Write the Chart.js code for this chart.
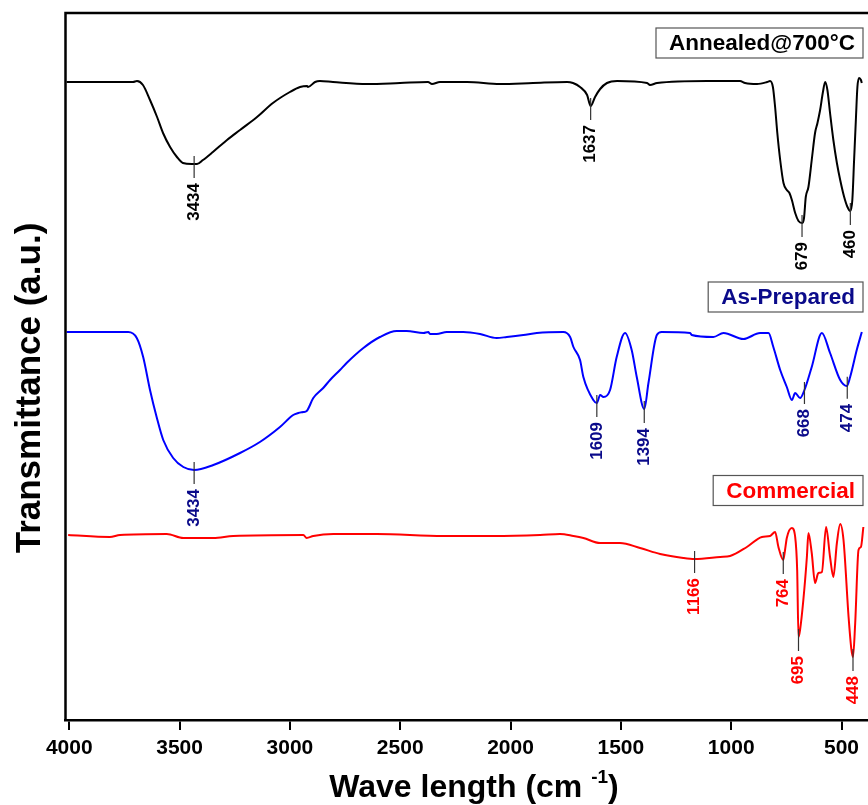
<!DOCTYPE html>
<html><head><meta charset="utf-8">
<script src="https://cdn.jsdelivr.net/npm/chart.js@4.4.1/dist/chart.umd.min.js"></script>
<style>html,body{margin:0;padding:0;background:#fff;overflow:hidden}#wrap{width:868px;height:805px;position:relative}</style>
</head><body><div id="wrap"><canvas id="c" width="868" height="805"></canvas></div>
<script>
// ---- data ----
const xTicks = [4000, 3500, 3000, 2500, 2000, 1500, 1000, 500];
const seriesNames = ['Annealed@700°C', 'As-Prepared', 'Commercial'];

const annealedWn = [4012,3997,3850,3711,3693,3666,3634,3602,3575,3543,3512,3485,3444,3434,3421,3394,3349,3285,3226,3149,3077,3000,2954,2922,2918,2886,2864,2805,2650,2501,2374,2356,2320,2197,2048,1898,1744,1717,1685,1653,1637,1617,1594,1563,1517,1381,1368,1336,1109,960,937,883,837,824,811,801,791,778,763,748,736,725,710,695,679,670,662,650,635,620,609,597,585,574,564,552,537,521,506,488,473,460,451,443,435,428,420,412,408];
const annealedT = [638,638,638,638,639,635,620,603,587,573,563,557,556,556,556,560,568,580,590,603,617,628,633,634,633,638,639,638,636,637,638,636,638,638,636,637,638,637,633,625,614,623,631,637,639,637,635,637,639,639,637,636,638,639,633,613,587,560,537,530,527,520,507,499,497,502,523,533,560,587,597,610,627,638,630,607,580,557,540,523,513,509,520,560,600,633,642,640,637];
const annealedPeaks = [3434, 1637, 679, 460];

const asPrepWn = [4012,3733,3694,3665,3634,3604,3574,3529,3483,3434,3347,3226,3136,3045,2985,2962,2939,2924,2894,2849,2818,2773,2743,2667,2592,2516,2471,2395,2373,2365,2335,2289,2214,2138,2063,2017,1942,1881,1761,1730,1715,1685,1670,1625,1609,1594,1579,1549,1519,1481,1451,1428,1394,1375,1337,1315,1186,1179,1081,1035,945,869,831,809,778,748,725,710,688,668,635,589,552,506,476,461,431,408];
const asPrepT = [388,388,382,363,330,303,280,262,253,250,255,267,278,293,305,307,308,309,322,332,340,350,357,372,383,389,389,387,388,386,386,388,388,386,382,383,385,387,388,383,373,360,343,320,317,325,323,330,363,387,370,343,311,337,385,388,387,385,383,387,381,387,387,373,350,333,320,327,322,330,353,387,367,340,334,343,370,388];
const asPrepPeaks = [3434, 1609, 1394, 668, 474];

const commWn = [4005,3816,3770,3558,3483,3347,3257,2939,2924,2894,2803,2607,2305,2078,1866,1776,1715,1670,1594,1504,1413,1322,1217,1166,1050,1005,929,861,824,801,786,764,756,748,725,710,701,695,688,673,657,650,635,620,605,589,570,552,537,521,506,491,468,455,448,438,423,412,401];
const commT = [185,183,185,186,182,182,184,185,182,184,186,186,184,184,185,186,184,182,177,177,172,166,162,161,163,164,173,183,184,188,173,160,170,182,192,183,150,83,90,120,163,187,167,137,147,148,193,163,143,177,196,180,103,70,63,97,170,173,193];
const commPeaks = [1166, 764, 695, 448];

// ---- styles ----
const FONT = '"Liberation Sans", Arial, Helvetica, sans-serif';
const series = [
  {name: seriesNames[0], wn: annealedWn, t: annealedT, peaks: annealedPeaks, line: '#000000', text: '#000000', boxY: 30},
  {name: seriesNames[1], wn: asPrepWn, t: asPrepT, peaks: asPrepPeaks, line: '#0000ff', text: '#0a0a8a', boxY: 284},
  {name: seriesNames[2], wn: commWn, t: commT, peaks: commPeaks, line: '#ff0000', text: '#ff0000', boxY: 477.5}
];

function interp(wn, t, p) {
  for (let i = 0; i < wn.length - 1; i++) {
    if (wn[i] >= p && p >= wn[i + 1]) {
      const f = (wn[i] - p) / (wn[i] - wn[i + 1] || 1);
      return t[i] + f * (t[i + 1] - t[i]);
    }
  }
  return t[t.length - 1];
}

const decor = {
  id: 'decor',
  afterDraw(chart) {
    const {ctx, chartArea: a, scales: {x, y}} = chart;
    ctx.save();
    // frame (left + top)
    ctx.strokeStyle = '#000'; ctx.lineWidth = 2.5;
    ctx.beginPath(); ctx.moveTo(a.left, a.bottom); ctx.lineTo(a.left, a.top); ctx.lineTo(a.right + 2, a.top); ctx.stroke();

    // peak markers
    series.forEach(s => {
      s.peaks.forEach(p => {
        const v = interp(s.wn, s.t, p);
        const px = x.getPixelForValue(p), py = y.getPixelForValue(v);
        ctx.strokeStyle = '#333'; ctx.lineWidth = 1.2;
        ctx.beginPath(); ctx.moveTo(px, py - 8); ctx.lineTo(px, py + 14); ctx.stroke();
        ctx.save();
        ctx.translate(px, py + 19); ctx.rotate(-Math.PI / 2);
        ctx.fillStyle = s.text;
        ctx.font = 'bold 17px ' + FONT;
        ctx.textAlign = 'right'; ctx.textBaseline = 'middle';
        ctx.fillText(String(p), 0, 0);
        ctx.restore();
      });
    });

    // legend boxes
    ctx.font = 'bold 22.5px ' + FONT;
    series.forEach(s => {
      const tw = ctx.measureText(s.name).width;
      const right = a.right - 5, textRight = a.right - 13;
      const cy = a.top + s.boxY;
      const left = textRight - tw - 13;
      ctx.strokeStyle = '#555'; ctx.lineWidth = 1.2;
      ctx.strokeRect(left, cy - 15, right - left, 30);
      ctx.fillStyle = s.text; ctx.textAlign = 'right'; ctx.textBaseline = 'middle';
      ctx.fillText(s.name, textRight, cy + 1);
    });

    // y title
    ctx.save();
    ctx.translate(30, 388); ctx.rotate(-Math.PI / 2);
    ctx.fillStyle = '#000'; ctx.font = 'bold 35px ' + FONT;
    ctx.textAlign = 'center'; ctx.textBaseline = 'middle';
    ctx.fillText('Transmittance (a.u.)', 0, 0);
    ctx.restore();

    // x title with superscript
    const main1 = 'Wave length (cm ', sup = '-1', main2 = ')';
    const fMain = 'bold 32px ' + FONT, fSup = 'bold 19px ' + FONT;
    ctx.font = fMain; const w1 = ctx.measureText(main1).width, w3 = ctx.measureText(main2).width;
    ctx.font = fSup; const w2 = ctx.measureText(sup).width;
    const total = w1 + w2 + w3;
    let sx = 474 - total / 2;
    const base = 797;
    ctx.fillStyle = '#000'; ctx.textAlign = 'left'; ctx.textBaseline = 'alphabetic';
    ctx.font = fMain; ctx.fillText(main1, sx, base); sx += w1;
    ctx.font = fSup; ctx.fillText(sup, sx, base - 14); sx += w2;
    ctx.font = fMain; ctx.fillText(main2, sx, base);
    ctx.restore();
  }
};

new Chart(document.getElementById('c'), {
  type: 'line',
  data: {
    datasets: series.map(s => ({
      label: s.name,
      data: s.wn.map((w, i) => ({x: w, y: s.t[i]})),
      borderColor: s.line,
      borderWidth: 2,
      pointRadius: 0,
      fill: false,
      cubicInterpolationMode: 'monotone'
    }))
  },
  options: {
    responsive: false,
    devicePixelRatio: 1,
    animation: false,
    layout: {padding: {left: 65.5, top: 13, right: 0, bottom: 0}},
    plugins: {legend: {display: false}, tooltip: {enabled: false}},
    scales: {
      x: {
        type: 'linear', reverse: true, min: 380, max: 4017,
        afterBuildTicks: s => { s.ticks = xTicks.map(v => ({value: v})); },
        afterFit: s => { s.height = 85; s.paddingLeft = 0; s.paddingRight = 0; },
        ticks: {font: {family: FONT, size: 21, weight: 'bold'}, color: '#000', padding: 6, maxRotation: 0, autoSkip: false, callback: v => String(v)},
        grid: {display: true, drawOnChartArea: false, drawTicks: true, tickLength: 10, color: '#000', lineWidth: 2},
        border: {display: true, color: '#000', width: 2.5}
      },
      y: {type: 'linear', display: false, min: 0, max: 707}
    }
  },
  plugins: [decor]
});
</script></body></html>
